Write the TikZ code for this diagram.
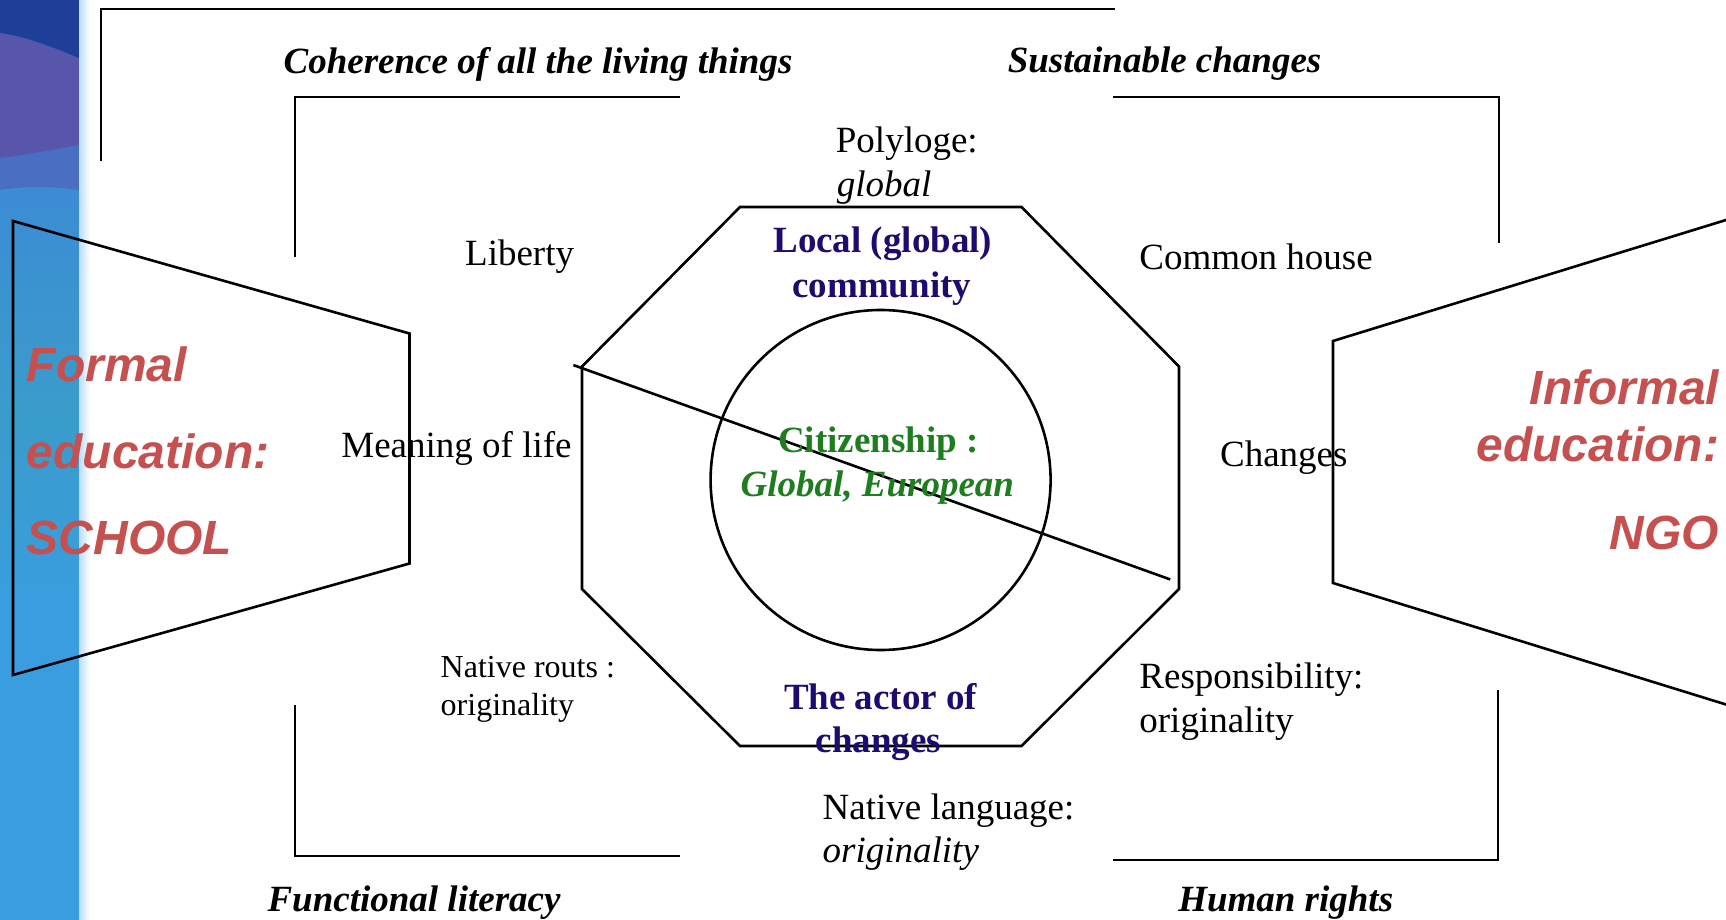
\documentclass[tikz,border=0pt]{standalone}
\usepackage{fontspec}
\setmainfont{Liberation Serif}
\setsansfont{Liberation Sans}
\definecolor{redt}{HTML}{C4504F}
\definecolor{navyt}{HTML}{1B0C6E}
\definecolor{greent}{HTML}{1E7D1E}
\definecolor{sbase}{HTML}{3A9DE0}
\definecolor{steal}{HTML}{3A9CCB}
\definecolor{smid}{HTML}{3C8BD4}
\definecolor{sband}{HTML}{4A6EC2}
\definecolor{spurple}{HTML}{5856AB}
\definecolor{sdark}{HTML}{1D3F97}
\tikzset{
  frame/.style={line width=1.3pt, line cap=rect, line join=miter},
  lbl/.style={inner sep=0pt, font=\fontsize{18.5}{22}\selectfont},
  small/.style={inner sep=0pt, font=\fontsize{16}{19}\selectfont},
  head/.style={inner sep=0pt, font=\fontsize{18.5}{22}\selectfont\bfseries\itshape},
  core/.style={inner sep=0pt, font=\fontsize{18.5}{22}\selectfont\bfseries, text=navyt},
  cit/.style={inner sep=0pt, font=\fontsize{18.5}{22}\selectfont\bfseries, text=greent},
  edu/.style={inner sep=0pt, font=\fontsize{24}{29}\selectfont\sffamily\bfseries\itshape, text=redt}
}
\begin{document}
\begin{tikzpicture}[x=0.5pt,y=-0.5pt]
\useasboundingbox (0,0) rectangle (1726,920);
% decorative strip
\fill[sbase] (0,0) rectangle (79,920);
\shade[top color=smid, bottom color=steal] (0,180) rectangle (79,420);
\shade[top color=steal, bottom color=sbase] (0,420) rectangle (79,620);
\fill[sband] (0,0) -- (79,0) -- (79,190) .. controls (50,186) and (25,186) .. (0,190) -- cycle;
\fill[spurple] (0,0) -- (79,0) -- (79,145) .. controls (50,150) and (25,155) .. (0,158) -- cycle;
\fill[sdark] (0,0) -- (79,0) -- (79,58) .. controls (55,48) and (25,36) .. (0,33) -- cycle;
\shade[left color=sbase!35!white, right color=white] (79,0) rectangle (90,920);

% brackets
\draw[frame] (101,160) -- (101,9) -- (1114,9);
\draw[frame] (295,256) -- (295,97) -- (679,97);
\draw[frame] (1114,97) -- (1499,97) -- (1499,242);
\draw[frame] (295,706) -- (295,856) -- (679,856);
\draw[frame] (1114,860) -- (1498,860) -- (1498,691);

% trapezoids
\draw[frame] (13,221) -- (409.5,333.5) -- (409.5,563.5) -- (13,675) -- cycle;
\draw[frame] (1726,220) -- (1333,341) -- (1333,583) -- (1726,704.5);

% octagon and circle
\draw[frame] (740,207) -- (1021.5,207) -- (1179,366.5) -- (1179,589) -- (1021.5,746) -- (740,746) -- (582,589) -- (582,366.5) -- cycle;
\draw[frame] (880.6,480) circle[radius=85pt];
\coordinate (dA) at (574.6,365.5);
\coordinate (dB) at (1169,579);
\draw[frame] (dA) -- (dB);

% headings
\node[head, anchor=base] (coh) at (538,74) {Coherence of all the living things};
\node[head, anchor=base] (sus) at (1164.6,73) {Sustainable changes};
\node[head, anchor=base] (fun) at (414,911) {Functional literacy};
\node[head, anchor=base] (hum) at (1285.7,911) {Human rights};

% labels
\node[lbl, anchor=base west] (poly) at (835.5,153) {Polyloge:};
\node[lbl, anchor=base west] (polyg) at (836.5,197) {\itshape global};
\node[lbl, anchor=base] (lib) at (519.6,265) {Liberty};
\node[lbl, anchor=base west] (com) at (1139,270) {Common house};
\node[lbl, anchor=base west] (mean) at (341,457) {Meaning of life};
\node[lbl, anchor=base west] (chg) at (1219.7,466) {Changes};
\node[small, anchor=base west] (nat) at (440.3,677) {Native routs :};
\node[small, anchor=base west] (nato) at (440.3,715) {originality};
\node[lbl, anchor=base west] (resp) at (1139,688) {Responsibility:};
\node[lbl, anchor=base west] (respo) at (1139,732) {originality};
\node[lbl, anchor=base west] (lang) at (822.3,819) {Native language:};
\node[lbl, anchor=base west] (lango) at (822.3,862) {\itshape originality};

% core
\node[core, anchor=base] (loc) at (882.8,252) {Local (global)};
\node[core, anchor=base] (comm) at (881.7,298) {community};
\node[cit, anchor=base] (citz) at (878.4,452) {Citizenship :};
\node[cit, anchor=base] (glob) at (877.3,496) {\itshape Global, European};
\node[core, anchor=base] (act) at (880.6,709) {The actor of};
\node[core, anchor=base] (actc) at (878.4,752) {changes};

% education labels
\node[edu, anchor=base west] (f1) at (26.4,381) {Formal};
\node[edu, anchor=base west] (f2) at (26.4,468) {education:};
\node[edu, anchor=base west] (f3) at (26.4,554) {SCHOOL};
\node[edu, anchor=base east] (i1) at (1719.5,404.5) {Informal};
\node[edu, anchor=base east] (i2) at (1719.5,461) {education:};
\node[edu, anchor=base east] (i3) at (1719.5,549) {NGO};
\end{tikzpicture}
\end{document}
